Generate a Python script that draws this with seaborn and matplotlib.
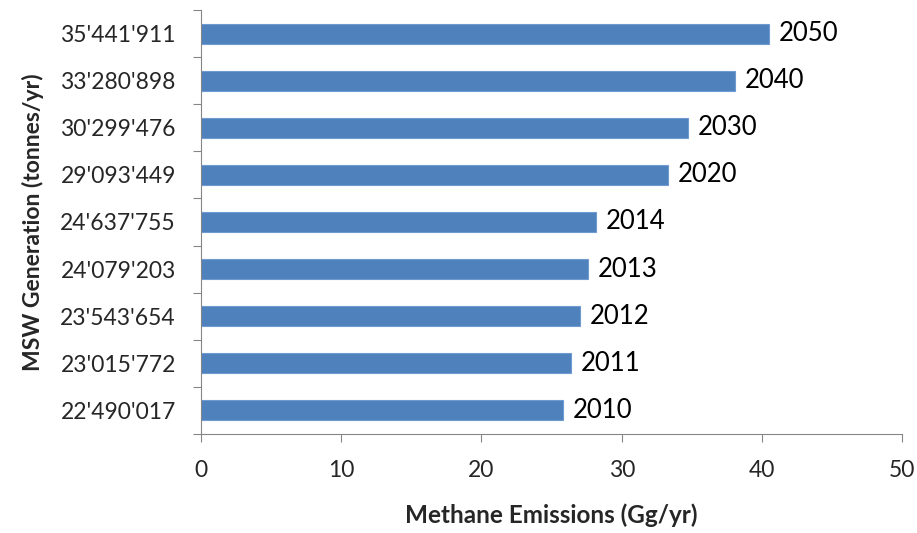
import numpy as np
import pandas as pd
import matplotlib
matplotlib.use('Agg')
import matplotlib.pyplot as plt
import seaborn as sns

# Data (top to bottom as in the chart)
msw_labels = ["35'441'911", "33'280'898", "30'299'476", "29'093'449", "24'637'755",
              "24'079'203", "23'543'654", "23'015'772", "22'490'017"]
years = ["2050", "2040", "2030", "2020", "2014", "2013", "2012", "2011", "2010"]
methane = [40.5, 38.1, 34.7, 33.3, 28.2, 27.6, 27.0, 26.4, 25.8]

df = pd.DataFrame({'MSW': msw_labels, 'Year': years, 'Methane': methane})

sns.set_style('white')
plt.rcParams['font.family'] = ['Lato', 'DejaVu Sans']

fig = plt.figure(figsize=(9.17, 5.33), dpi=100)
ax = fig.add_axes([0.219, 0.186, 0.765, 0.795])

sns.barplot(data=df, x='Methane', y='MSW', order=msw_labels, orient='h',
            color='#4F81BD', saturation=1, width=0.43, ax=ax,
            edgecolor='#6f9bd1', linewidth=0.8)

ax.bar_label(ax.containers[0], labels=years, padding=7, fontsize=18.5, color='black')

ax.set_xlim(0, 50)
ax.set_ylim(len(msw_labels) - 0.5, -0.5)
ax.set_xticks([0, 10, 20, 30, 40, 50])
ax.tick_params(axis='x', length=6, width=0.8, color='#868686', pad=13, labelsize=16.5,
               direction='out', bottom=True)
ax.tick_params(axis='y', which='major', length=0, pad=18, labelsize=16.5)
ax.set_yticks(np.arange(-0.5, len(msw_labels), 1), minor=True)
ax.tick_params(axis='y', which='minor', length=6, width=0.8, color='#868686',
               direction='out', left=True)

for s in ['top', 'right']:
    ax.spines[s].set_visible(False)
for s in ['left', 'bottom']:
    ax.spines[s].set_color('#868686')
    ax.spines[s].set_linewidth(0.8)

ax.set_xlabel('Methane Emissions (Gg/yr)', fontsize=17.5, fontweight='bold', labelpad=16)
ax.set_ylabel('MSW Generation (tonnes/yr)', fontsize=16.5, fontweight='bold', labelpad=12)

fig.savefig('out.png', dpi=100)
